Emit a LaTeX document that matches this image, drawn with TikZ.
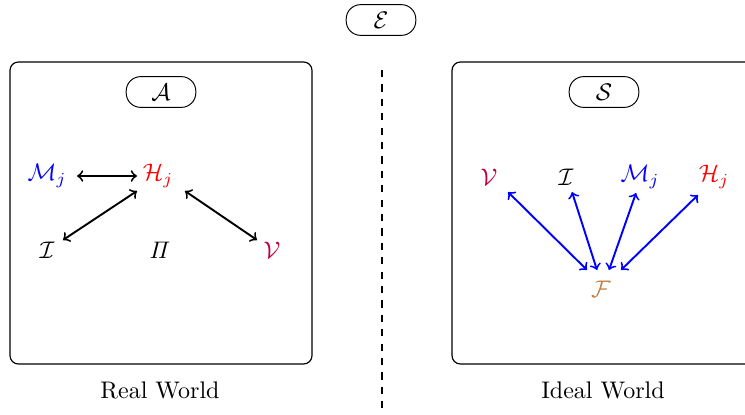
\documentclass[tikz,border=0pt]{standalone}
\usetikzlibrary{calc}
\begin{document}
\begin{tikzpicture}[x=0.4167pt,y=-0.4167pt,
  pill/.style={draw,rounded corners=6pt,minimum width=29pt,minimum height=12.8pt,inner sep=2pt},
  frame/.style={draw,rounded corners=3.5pt,line width=0.5pt},
  sym/.style={inner sep=1pt},
  link/.style={<->,thick},
  blink/.style={<->,thick,blue}]
\useasboundingbox (0,0) rectangle (745,414);
% top
\node[pill] (E) at (381,20) {$\mathcal{E}$};
\coordinate (dtop) at (382,70);
\coordinate (dbot) at (382,414);
\draw[thick,dashed] (dtop) -- (dbot);
% left box
\draw[frame] (10,62) rectangle (312,364);
\node[pill] (A) at (161,92) {$\mathcal{A}$};
\node[sym,text=blue] (M) at (47,176) {$\mathcal{M}_j$};
\node[sym,text=red] (H) at (158,176) {$\mathcal{H}_j$};
\node[sym] (I) at (47,250) {$\mathcal{I}$};
\node[sym] (P) at (160,250) {$\mathit{\Pi}$};
\node[sym,text=purple] (V) at (272,250) {$\mathcal{V}$};
\draw[link] ($(M)+(30,0)$) -- ($(H)+(-21,0)$);
\draw[link] ($(H)+(-21,15)$) -- ($(I)+(16,-10)$);
\draw[link] ($(H)+(27,15)$) -- ($(V)+(-15,-10)$);
\node (RW) at (160,390) {Real World};
% right box
\draw[frame] (452,62) rectangle (770,364);
\node[pill] (S) at (604,92) {$\mathcal{S}$};
\node[sym,text=purple] (V2) at (489,177) {$\mathcal{V}$};
\node[sym] (I2) at (566,177) {$\mathcal{I}$};
\node[sym,text=blue] (M2) at (640,177) {$\mathcal{M}_j$};
\node[sym,text=red] (H2) at (714,177) {$\mathcal{H}_j$};
\node[sym,text=brown] (F) at (601,289) {$\mathcal{F}$};
\draw[blink] ($(V2)+(19,15)$) -- ($(F)+(-14,-19)$);
\draw[blink] ($(I2)+(6,15)$) -- ($(F)+(-4,-19)$);
\draw[blink] ($(M2)+(-4,16)$) -- ($(F)+(8,-19)$);
\draw[blink] ($(H2)+(-16,18)$) -- ($(F)+(20,-19)$);
\node (IW) at (603,390) {Ideal World};
\end{tikzpicture}
\end{document}
